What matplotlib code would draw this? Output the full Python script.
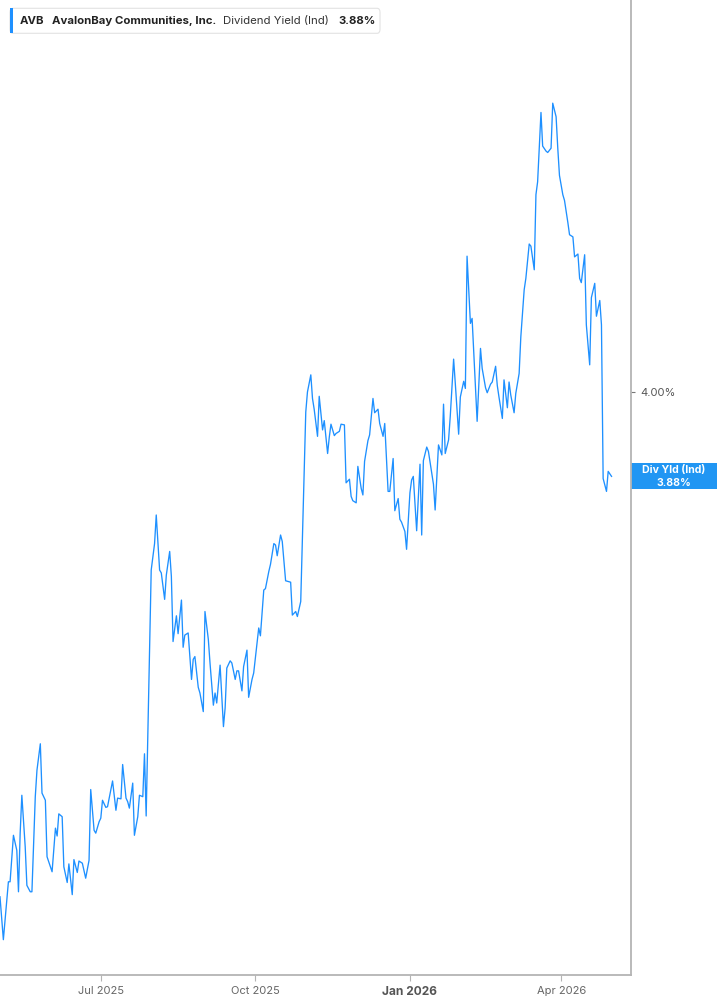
import matplotlib
matplotlib.use("Agg")
import matplotlib.pyplot as plt
import pandas as pd
from matplotlib.patches import Rectangle, FancyBboxPatch
from matplotlib.transforms import blended_transform_factory

plt.rcParams['font.family'] = ['Inter', 'DejaVu Sans']

# AVB indicated dividend yield (%)
dates = [
    "2025-05-02", "2025-05-04", "2025-05-07", "2025-05-08", "2025-05-10", "2025-05-12", "2025-05-13",
    "2025-05-14", "2025-05-15", "2025-05-17", "2025-05-18", "2025-05-20", "2025-05-21", "2025-05-23",
    "2025-05-24", "2025-05-26", "2025-05-27", "2025-05-29", "2025-05-30", "2025-06-02", "2025-06-04",
    "2025-06-05", "2025-06-06", "2025-06-08", "2025-06-09", "2025-06-11", "2025-06-12", "2025-06-14",
    "2025-06-15", "2025-06-17", "2025-06-18", "2025-06-20", "2025-06-22", "2025-06-24", "2025-06-25",
    "2025-06-27", "2025-06-28", "2025-06-30", "2025-07-01", "2025-07-02", "2025-07-04", "2025-07-05",
    "2025-07-08", "2025-07-10", "2025-07-11", "2025-07-13", "2025-07-14", "2025-07-16", "2025-07-17",
    "2025-07-18", "2025-07-20", "2025-07-21", "2025-07-23", "2025-07-24", "2025-07-26", "2025-07-27",
    "2025-07-28", "2025-07-31", "2025-08-02", "2025-08-03", "2025-08-05", "2025-08-06", "2025-08-08",
    "2025-08-09", "2025-08-11", "2025-08-12", "2025-08-13", "2025-08-15", "2025-08-16", "2025-08-18",
    "2025-08-19", "2025-08-20", "2025-08-22", "2025-08-24", "2025-08-25", "2025-08-26", "2025-08-28",
    "2025-08-29", "2025-08-31", "2025-09-01", "2025-09-03", "2025-09-04", "2025-09-06", "2025-09-07",
    "2025-09-08", "2025-09-10", "2025-09-12", "2025-09-13", "2025-09-14", "2025-09-16", "2025-09-17",
    "2025-09-19", "2025-09-20", "2025-09-21", "2025-09-23", "2025-09-24", "2025-09-26", "2025-09-27",
    "2025-09-29", "2025-09-30", "2025-10-02", "2025-10-03", "2025-10-04", "2025-10-06", "2025-10-07",
    "2025-10-09", "2025-10-10", "2025-10-12", "2025-10-13", "2025-10-14", "2025-10-16", "2025-10-17",
    "2025-10-19", "2025-10-22", "2025-10-23", "2025-10-25", "2025-10-26", "2025-10-28", "2025-10-31",
    "2025-11-01", "2025-11-03", "2025-11-04", "2025-11-05", "2025-11-07", "2025-11-08", "2025-11-10",
    "2025-11-11", "2025-11-13", "2025-11-14", "2025-11-15", "2025-11-17", "2025-11-18", "2025-11-20",
    "2025-11-21", "2025-11-23", "2025-11-24", "2025-11-26", "2025-11-27", "2025-11-28", "2025-11-30",
    "2025-12-01", "2025-12-03", "2025-12-04", "2025-12-05", "2025-12-07", "2025-12-08", "2025-12-10",
    "2025-12-11", "2025-12-13", "2025-12-14", "2025-12-16", "2025-12-17", "2025-12-19", "2025-12-20",
    "2025-12-22", "2025-12-23", "2025-12-25", "2025-12-26", "2025-12-27", "2025-12-29", "2025-12-30",
    "2026-01-01", "2026-01-02", "2026-01-03", "2026-01-05", "2026-01-07", "2026-01-08", "2026-01-09",
    "2026-01-11", "2026-01-12", "2026-01-14", "2026-01-15", "2026-01-16", "2026-01-18", "2026-01-20",
    "2026-01-21", "2026-01-22", "2026-01-24", "2026-01-25", "2026-01-27", "2026-01-28", "2026-01-30",
    "2026-01-31", "2026-02-02", "2026-02-03", "2026-02-04", "2026-02-06", "2026-02-07", "2026-02-10",
    "2026-02-12", "2026-02-13", "2026-02-15", "2026-02-16", "2026-02-18", "2026-02-19", "2026-02-21",
    "2026-02-22", "2026-02-23", "2026-02-25", "2026-02-26", "2026-02-28", "2026-03-01", "2026-03-02",
    "2026-03-04", "2026-03-05", "2026-03-07", "2026-03-08", "2026-03-10", "2026-03-11", "2026-03-13",
    "2026-03-14", "2026-03-16", "2026-03-17", "2026-03-18", "2026-03-20", "2026-03-21", "2026-03-23",
    "2026-03-24", "2026-03-26", "2026-03-27", "2026-03-29", "2026-03-30", "2026-03-31", "2026-04-02",
    "2026-04-03", "2026-04-05", "2026-04-06", "2026-04-08", "2026-04-09", "2026-04-11", "2026-04-12",
    "2026-04-13", "2026-04-15", "2026-04-16", "2026-04-18", "2026-04-19", "2026-04-21", "2026-04-22",
    "2026-04-24", "2026-04-25", "2026-04-26", "2026-04-28", "2026-04-29", "2026-05-01",
]
yields = [
    3.294, 3.234, 3.315, 3.315, 3.380, 3.359, 3.301,
    3.383, 3.436, 3.364, 3.310, 3.301, 3.301, 3.434,
    3.471, 3.508, 3.439, 3.429, 3.350, 3.329, 3.390,
    3.379, 3.410, 3.406, 3.336, 3.314, 3.340, 3.297,
    3.346, 3.328, 3.344, 3.341, 3.320, 3.345, 3.444,
    3.387, 3.383, 3.399, 3.404, 3.429, 3.419, 3.420,
    3.456, 3.415, 3.432, 3.431, 3.479, 3.432, 3.427,
    3.418, 3.453, 3.380, 3.406, 3.436, 3.434, 3.494,
    3.407, 3.751, 3.788, 3.828, 3.751, 3.747, 3.710,
    3.744, 3.777, 3.742, 3.651, 3.687, 3.662, 3.709,
    3.643, 3.660, 3.663, 3.598, 3.626, 3.630, 3.587,
    3.579, 3.553, 3.693, 3.654, 3.621, 3.562, 3.579,
    3.565, 3.618, 3.532, 3.558, 3.614, 3.624, 3.621,
    3.598, 3.610, 3.610, 3.582, 3.616, 3.639, 3.573,
    3.598, 3.607, 3.649, 3.670, 3.659, 3.723, 3.725,
    3.749, 3.759, 3.788, 3.786, 3.771, 3.800, 3.791,
    3.736, 3.734, 3.688, 3.693, 3.686, 3.707, 3.972,
    4.000, 4.024, 3.991, 3.976, 3.938, 3.994, 3.947,
    3.960, 3.914, 3.937, 3.955, 3.939, 3.942, 3.945,
    3.955, 3.954, 3.873, 3.878, 3.854, 3.848, 3.845,
    3.896, 3.865, 3.856, 3.903, 3.932, 3.940, 3.991,
    3.971, 3.976, 3.956, 3.938, 3.956, 3.861, 3.861,
    3.907, 3.834, 3.851, 3.822, 3.818, 3.805, 3.780,
    3.859, 3.877, 3.882, 3.806, 3.899, 3.800, 3.904,
    3.923, 3.917, 3.886, 3.871, 3.835, 3.926, 3.912,
    3.983, 3.914, 3.933, 3.966, 4.046, 4.012, 3.941,
    3.993, 4.015, 4.005, 4.190, 4.096, 4.103, 3.959,
    4.061, 4.033, 4.006, 3.999, 4.011, 4.014, 4.036,
    4.009, 3.993, 3.963, 4.017, 3.978, 4.014, 3.996,
    3.971, 3.998, 4.026, 4.077, 4.143, 4.159, 4.207,
    4.204, 4.171, 4.276, 4.294, 4.391, 4.344, 4.337,
    4.335, 4.341, 4.404, 4.385, 4.341, 4.303, 4.276,
    4.268, 4.237, 4.220, 4.217, 4.189, 4.193, 4.159,
    4.153, 4.192, 4.094, 4.038, 4.132, 4.152, 4.106,
    4.128, 4.094, 3.879, 3.861, 3.889, 3.882,
]
tick_dates = ["2025-07-01", "2025-10-01", "2026-01-01", "2026-04-01"]
tick_labels = ["Jul 2025", "Oct 2025", "Jan 2026", "Apr 2026"]

blue = "#1e90ff"
W, H = 717, 1005

fig = plt.figure(figsize=(W / 100, H / 100), dpi=100)
ax = fig.add_axes([0, 30 / H, 631 / W, 975 / H])

x = pd.to_datetime(dates)
ax.plot(x, yields, color=blue, lw=0.95)

ax.set_xlim(pd.Timestamp("2025-05-02"), pd.Timestamp("2026-05-12 14:00"))
ax.set_ylim(3.1846, 4.5483)

for s in ["left", "top"]:
    ax.spines[s].set_visible(False)
for s in ["bottom", "right"]:
    ax.spines[s].set_color("#b4b4b4")
    ax.spines[s].set_linewidth(1.3)

ax.set_xticks(pd.to_datetime(tick_dates))
ax.set_xticklabels(tick_labels)
ax.tick_params(axis="x", length=4, width=0.8, color="#b4b4b4", labelsize=8, labelcolor="#666666", pad=4)
for lab in ax.get_xticklabels():
    if lab.get_text().startswith("Jan"):
        lab.set_fontweight("bold")
        lab.set_color("#555555")
        lab.set_fontsize(8.6)

ax.yaxis.tick_right()
ax.set_yticks([4.0])
ax.set_yticklabels(["4.00%"])
ax.tick_params(axis="y", length=3, width=0.8, color="#777777", labelsize=8, labelcolor="#555555", pad=4)

# last value tag on the right axis
last = yields[-1]
tr = blended_transform_factory(ax.transAxes, ax.transData)
box_h = 26 / 715
ax.add_patch(Rectangle((1.0, last - box_h / 2), (W - 631) / 631, box_h, transform=tr,
                       facecolor="#2196f3", edgecolor="none", clip_on=False))
xc = (631 + W) / 2 / 631
ax.text(xc, last + 6.5 / 715, "Div Yld (Ind)", transform=tr, ha="center", va="center",
        color="white", fontsize=7.6, fontweight="bold")
ax.text(xc, last - 6.5 / 715, f"{last:.2f}%", transform=tr, ha="center", va="center",
        color="white", fontsize=7.6, fontweight="bold")


def fx(px):
    return px / W


def fy(py):
    return 1 - py / H


# header legend box
fig.patches.append(FancyBboxPatch((fx(10), fy(33.3)), fx(370), 25 / H,
                                  boxstyle="round,pad=0,rounding_size=0.004",
                                  transform=fig.transFigure, facecolor="white",
                                  edgecolor="#e2e2e2", lw=0.8))
fig.patches.append(Rectangle((fx(10), fy(33.3)), fx(3), 25 / H, transform=fig.transFigure,
                             facecolor=blue, edgecolor="none"))
ty = fy(21)
fs = 8.2
fig.text(fx(20), ty, "AVB", fontsize=fs, fontweight="bold", color="#222222", va="center")
fig.text(fx(52), ty, "AvalonBay Communities, Inc.", fontsize=fs, fontweight="bold",
         color="#222222", va="center")
fig.text(fx(223), ty, "Dividend Yield (Ind)", fontsize=fs, color="#333333", va="center")
fig.text(fx(338), ty, f"{last:.2f}%", fontsize=fs, fontweight="bold", color="#222222", va="center")

fig.savefig("out.png", dpi=100)
